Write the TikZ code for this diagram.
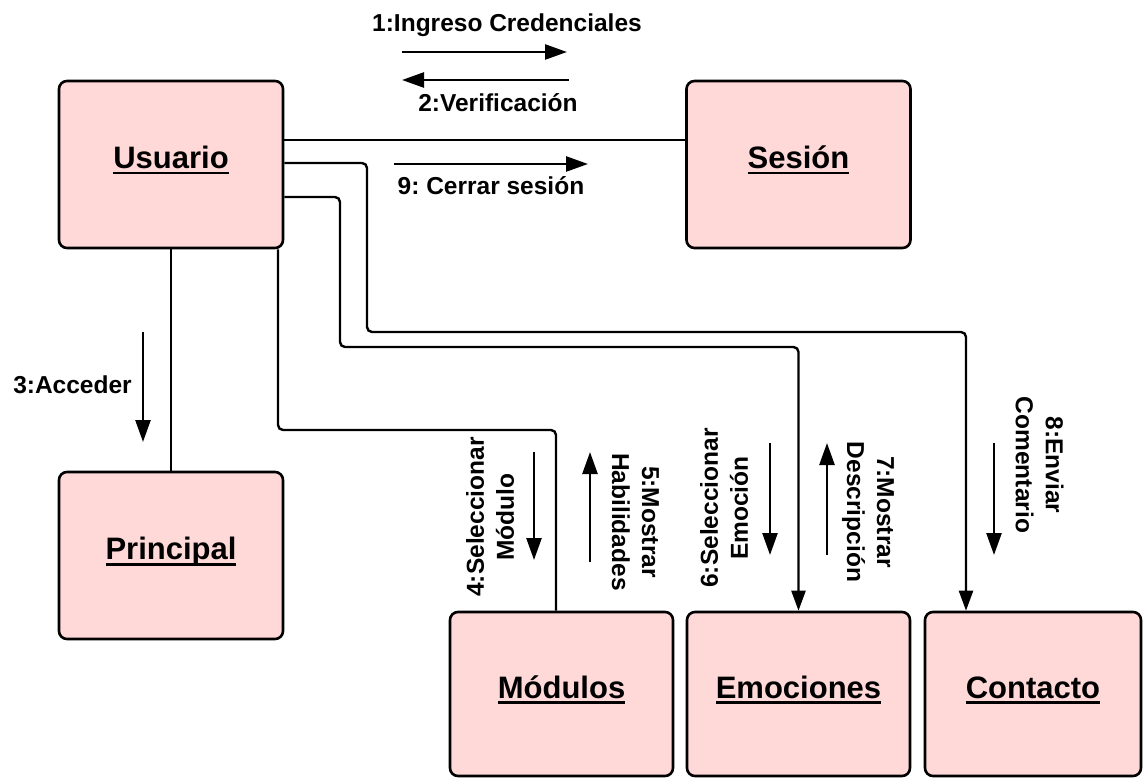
\documentclass[tikz,border=0pt]{standalone}
\usepackage{fontspec}
\setmainfont{Liberation Sans}
\usetikzlibrary{arrows.meta}
\definecolor{boxpink}{RGB}{255,216,216}
\newcommand\myul[1]{\setbox0\hbox{#1}\rlap{\copy0}\rule[-6pt]{\wd0}{2.8pt}}
\frenchspacing
\begin{document}
\begin{tikzpicture}[x=1pt,y=-1pt,
  obj/.style={draw=black, line width=2.6pt, fill=boxpink, rounded corners=8pt,
    minimum width=224pt, minimum height=167pt, inner sep=0pt,
    text height=22.5pt, text depth=14.5pt,
    font=\fontsize{31}{36}\selectfont\bfseries},
  lowobj/.style={obj, minimum width=223pt, minimum height=164pt},
  conn/.style={line width=2.4pt, rounded corners=5pt},
  connarrow/.style={conn, -{Triangle[length=20pt,width=14pt]}},
  msg/.style={line width=2.5pt, -{Triangle[length=22pt,width=15pt]}},
  lbl/.style={font=\fontsize{24.5}{30}\selectfont\bfseries, align=center, inner sep=0pt},
]
\useasboundingbox (0,0) rectangle (1143,778);

% objects
\node[obj] (usu) at (171,164.5) {\myul{Usuario}};
\node[obj] (ses) at (798.5,164.5) {\myul{Sesión}};
\node[obj] (pri) at (171,555.5) {\myul{Principal}};
\node[lowobj] (mod) at (561.5,694) {\myul{Módulos}};
\node[lowobj] (emo) at (798.5,694) {\myul{Emociones}};
\node[lowobj, minimum width=216pt] (con) at (1033,694) {\myul{Contacto}};

% links
\draw[conn] (usu.east |- 0,140) -- (ses.west |- 0,140);
\draw[connarrow] (usu.east |- 0,163) -- (367,163) -- (367,332) -- (966,332) -- (con.north -| 966,0);
\draw[connarrow] (usu.east |- 0,197) -- (340,197) -- (340,347) -- (798.5,347) -- (emo.north);
\draw[conn] (usu.south -| 278,0) -- (278,430) -- (556,430) -- (mod.north -| 556,0);
\draw[conn] (usu.south) -- (pri.north);

% messages
\coordinate (m1a) at (402,52);  \coordinate (m1b) at (567,52);
\draw[msg] (m1a) -- (m1b);
\node[lbl, anchor=base] (l1) at (507,32) {1:Ingreso Credenciales};

\coordinate (m2a) at (569,80);  \coordinate (m2b) at (402,80);
\draw[msg] (m2a) -- (m2b);
\node[lbl, anchor=base] (l2) at (498,112) {2:Verificación};

\coordinate (m9a) at (394,164);  \coordinate (m9b) at (588,164);
\draw[msg] (m9a) -- (m9b);
\node[lbl, anchor=base] (l9) at (491,195) {9: Cerrar sesión};

\coordinate (m3a) at (143,332);  \coordinate (m3b) at (143,442);
\draw[msg] (m3a) -- (m3b);
\node[lbl, anchor=base] (l3) at (72.5,393) {3:Acceder};

\coordinate (m4a) at (534,452);  \coordinate (m4b) at (534,560);
\draw[msg] (m4a) -- (m4b);
\node[lbl, rotate=90] (l4) at (490,517) {4:Seleccionar\\Módulo};

\coordinate (m5a) at (590,562);  \coordinate (m5b) at (590,452);
\draw[msg] (m5a) -- (m5b);
\node[lbl, rotate=-90] (l5) at (635.5,522) {5:Mostrar\\Habilidades};

\coordinate (m6a) at (770,443);  \coordinate (m6b) at (770,555);
\draw[msg] (m6a) -- (m6b);
\node[lbl, rotate=90] (l6) at (724,508) {6:Seleccionar\\Emoción};

\coordinate (m7a) at (827,555);  \coordinate (m7b) at (827,443);
\draw[msg] (m7a) -- (m7b);
\node[lbl, rotate=-90] (l7) at (868,512) {7:Mostrar\\Descripción};

\coordinate (m8a) at (994,443);  \coordinate (m8b) at (994,555);
\draw[msg] (m8a) -- (m8b);
\node[lbl, rotate=-90] (l8) at (1039.5,465) {8:Enviar\\Comentario};
\end{tikzpicture}
\end{document}
